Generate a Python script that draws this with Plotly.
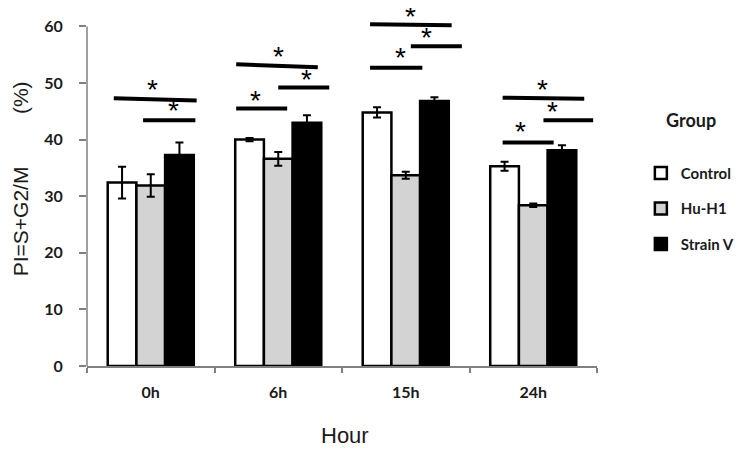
import plotly.graph_objects as go

categories = ["0h", "6h", "15h", "24h"]
groups = ["Control", "Hu-H1", "Strain V"]
control = [32.4, 40.0, 44.8, 35.3]
control_err = [2.8, 0.3, 0.9, 0.8]
hu_h1 = [31.9, 36.6, 33.7, 28.4]
hu_h1_err = [2.0, 1.2, 0.6, 0.3]
strain_v = [37.3, 43.0, 46.8, 38.1]
strain_v_err = [2.2, 1.3, 0.7, 0.9]

# significance bars: category index, x offsets (category units), y at left/right
sig_cat = [0, 0, 1, 1, 1, 2, 2, 2, 3, 3, 3]
sig_x0 = [-0.29, -0.06, -0.33, 0.00, -0.33, -0.28, 0.04, -0.28, -0.24, 0.08, -0.24]
sig_x1 = [0.36, 0.35, 0.31, 0.40, 0.07, 0.36, 0.44, 0.13, 0.40, 0.47, 0.16]
sig_y0 = [47.3, 43.4, 53.3, 49.2, 45.5, 60.4, 56.5, 52.7, 47.4, 43.4, 39.5]
sig_y1 = [46.9, 43.4, 52.8, 49.2, 45.5, 60.2, 56.5, 52.7, 47.2, 43.4, 39.5]
star_cat = [0, 0, 1, 1, 1, 2, 2, 2, 3, 3, 3]
star_dx = [0.01, 0.18, 0.0, 0.22, -0.18, 0.04, 0.16, -0.04, 0.07, 0.15, -0.10]
star_y = [49.4, 45.7, 55.3, 51.2, 47.5, 62.3, 58.6, 55.0, 49.4, 45.5, 42.0]

x = list(range(len(categories)))
tick_font = dict(family="Lato", size=16, color="#1a1a1a", weight="bold")

fig = go.Figure()
fills = ["white", "#d3d3d3", "black"]
vals = [control, hu_h1, strain_v]
errs = [control_err, hu_h1_err, strain_v_err]
for name, fill, v, e in zip(groups, fills, vals, errs):
    fig.add_trace(go.Bar(
        x=x, y=v, name=name, legendgroup=name,
        marker=dict(color=fill, line=dict(color="black", width=2.5)),
        error_y=dict(type="data", array=e, visible=True, color="black",
                     thickness=2, width=4),
    ))

shapes = []
for c, a, b, y0, y1 in zip(sig_cat, sig_x0, sig_x1, sig_y0, sig_y1):
    shapes.append(dict(type="line", xref="x", yref="y", x0=c + a, x1=c + b,
                       y0=y0, y1=y1, line=dict(color="black", width=4)))
# y axis line from 0 to 60
shapes.append(dict(type="line", xref="paper", yref="y", x0=0, x1=0, y0=0, y1=60,
                   line=dict(color="#808080", width=1.5)))

annotations = []
for c, dx, yv in zip(star_cat, star_dx, star_y):
    annotations.append(dict(x=c + dx, y=yv, xref="x", yref="y", text="*",
                            showarrow=False, yanchor="middle", yshift=-3, borderpad=0,
                            font=dict(family="Liberation Sans", size=28, color="black")))
annotations.append(dict(x=-0.131, y=0.525, xref="paper", yref="paper",
                        text="PI=S+G2/M\u00a0\u00a0\u00a0\u00a0\u00a0\u00a0\u00a0\u00a0\u00a0(%)",
                        textangle=-90, showarrow=False, xanchor="center", yanchor="middle",
                        font=dict(family="Liberation Sans", size=21, color="#1a1a1a")))
annotations.append(dict(x=0.506, y=-0.194, xref="paper", yref="paper", text="Hour",
                        showarrow=False, xanchor="center", yanchor="middle",
                        font=dict(family="Liberation Sans", size=22, color="#1a1a1a")))
annotations.append(dict(x=1.131, y=0.691, xref="paper", yref="paper", text="Group",
                        showarrow=False, xanchor="left", yanchor="middle",
                        font=dict(family="Lato", size=18, color="#1a1a1a", weight="bold")))

fig.update_layout(
    width=739, height=443,
    margin=dict(l=79, r=150, t=2, b=85, autoexpand=False),
    paper_bgcolor="white", plot_bgcolor="white",
    barmode="group", bargap=0.325, bargroupgap=0,
    showlegend=True,
    legend=dict(x=1.086, y=0.588, xanchor="left", yanchor="top",
                traceorder="grouped", tracegroupgap=13,
                font=dict(family="Lato", size=15, color="#1a1a1a", weight="bold"),
                itemwidth=30),
    xaxis=dict(range=[-0.5, 3.5], tickvals=x, ticktext=categories, automargin=False,
               ticks="outside", ticklen=11, tickcolor="rgba(0,0,0,0)",
               showline=True, linecolor="#808080", linewidth=1.5,
               showgrid=False, zeroline=False, tickfont=tick_font,
               minor=dict(tickvals=[-0.5, 0.5, 1.5, 2.5, 3.5], ticks="outside",
                          ticklen=5, tickcolor="#808080", tickwidth=1.5)),
    yaxis=dict(range=[0, 62.9], tickvals=[0, 10, 20, 30, 40, 50, 60], automargin=False,
               ticks="outside", ticklen=7, tickcolor="#808080", tickwidth=1.5,
               ticklabelstandoff=13,
               showline=False, showgrid=False, zeroline=False, tickfont=tick_font),
    shapes=shapes, annotations=annotations,
)

fig.write_html("out.html")
